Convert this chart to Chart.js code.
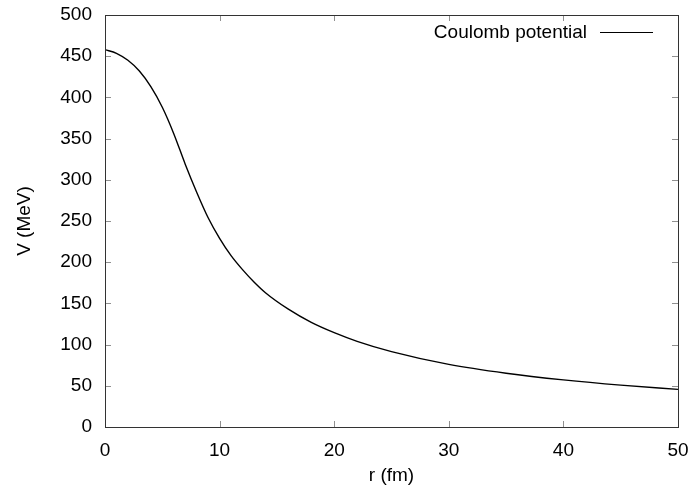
<!DOCTYPE html>
<html>
<head>
<meta charset="utf-8">
<script src="https://cdn.jsdelivr.net/npm/chart.js@4/dist/chart.umd.min.js"></script>
<style>
  html, body { margin: 0; padding: 0; background: #fff; }
  #wrap { width: 694px; height: 493px; }
</style>
</head>
<body>
<div id="wrap"><canvas id="chart" width="694" height="493"></canvas></div>
<script>
'use strict';

/* ── Data ────────────────────────────────────────────────────────── */
const radius    = [0, 1, 2, 3, 4, 5, 6, 7, 8, 9, 10, 11, 12, 13, 14, 16, 18, 20, 22, 25, 30, 35, 40, 45, 50];
const potential = [458, 453.5, 445, 432, 413, 388, 356, 319, 285, 254, 229, 208, 191, 176, 163, 143, 127, 114.5, 104, 91.5, 76, 65.3, 57.2, 50.8, 45.7];
const xTicks    = [0, 10, 20, 30, 40, 50];
const yTicks    = [0, 50, 100, 150, 200, 250, 300, 350, 400, 450, 500];
const seriesLabel = 'Coulomb potential';

const FONT = "'Liberation Sans', Arial, Helvetica, sans-serif";

/* ── Frame, inward ticks and key ─────────────────────────────────── */
const gnuplotFrame = {
  id: 'gnuplotFrame',
  afterDraw(chart) {
    const { ctx, chartArea: a, scales: { x, y } } = chart;
    ctx.save();
    ctx.lineWidth = 1;
    ctx.strokeStyle = '#909090';
    ctx.beginPath();
    xTicks.forEach(v => {
      const px = Math.round(x.getPixelForValue(v)) + 0.5;
      ctx.moveTo(px, a.bottom); ctx.lineTo(px, a.bottom - 6);
      ctx.moveTo(px, a.top);    ctx.lineTo(px, a.top + 6);
    });
    yTicks.forEach(v => {
      const py = Math.round(y.getPixelForValue(v)) + 0.5;
      ctx.moveTo(a.left, py);  ctx.lineTo(a.left + 6, py);
      ctx.moveTo(a.right, py); ctx.lineTo(a.right - 6, py);
    });
    ctx.stroke();

    ctx.strokeStyle = '#333';
    ctx.strokeRect(Math.round(a.left) + 0.5, Math.round(a.top) + 0.5,
                   Math.round(a.right - a.left), Math.round(a.bottom - a.top));

    // key, top right
    const ky = Math.round(a.top + 17) + 0.5;
    ctx.fillStyle = '#000';
    ctx.font = '19px ' + FONT;
    ctx.textAlign = 'right';
    ctx.textBaseline = 'middle';
    ctx.fillText(seriesLabel, a.right - 91, ky);
    ctx.strokeStyle = '#000';
    ctx.lineWidth = 1;
    ctx.beginPath();
    ctx.moveTo(a.right - 78, ky);
    ctx.lineTo(a.right - 25, ky);
    ctx.stroke();
    ctx.restore();
  }
};

/* ── Chart ───────────────────────────────────────────────────────── */
new Chart(document.getElementById('chart'), {
  type: 'line',
  data: {
    datasets: [{
      label: seriesLabel,
      data: radius.map((r, i) => ({ x: r, y: potential[i] })),
      borderColor: '#000',
      borderWidth: 1.4,
      pointRadius: 0,
      cubicInterpolationMode: 'monotone',
      fill: false,
    }]
  },
  options: {
    responsive: false,
    animation: false,
    layout: { padding: { top: 15, right: 16, left: 0, bottom: 0 } },
    plugins: { legend: { display: false }, tooltip: { enabled: false } },
    scales: {
      x: {
        type: 'linear',
        min: 0, max: 50,
        afterBuildTicks: s => { s.ticks = xTicks.map(v => ({ value: v })); },
        afterFit: s => { s.height = 66; s.paddingLeft = 0; s.paddingRight = 0; },
        grid: { display: false, drawTicks: false },
        border: { display: false },
        ticks: { color: '#000', padding: 12, font: { family: FONT, size: 19 } },
        title: { display: true, text: 'r (fm)', color: '#000', padding: { top: 0, bottom: 6 }, font: { family: FONT, size: 19 } }
      },
      y: {
        type: 'linear',
        min: 0, max: 500,
        afterBuildTicks: s => { s.ticks = yTicks.map(v => ({ value: v })); },
        afterFit: s => { s.width = 105; s.paddingTop = 0; s.paddingBottom = 0; },
        grid: { display: false, drawTicks: false },
        border: { display: false },
        ticks: { color: '#000', padding: 13, font: { family: FONT, size: 19 } },
        title: { display: true, text: 'V (MeV)', color: '#000', padding: { top: 13, bottom: 0 }, font: { family: FONT, size: 19 } }
      }
    }
  },
  plugins: [gnuplotFrame]
});
</script>
</body>
</html>
